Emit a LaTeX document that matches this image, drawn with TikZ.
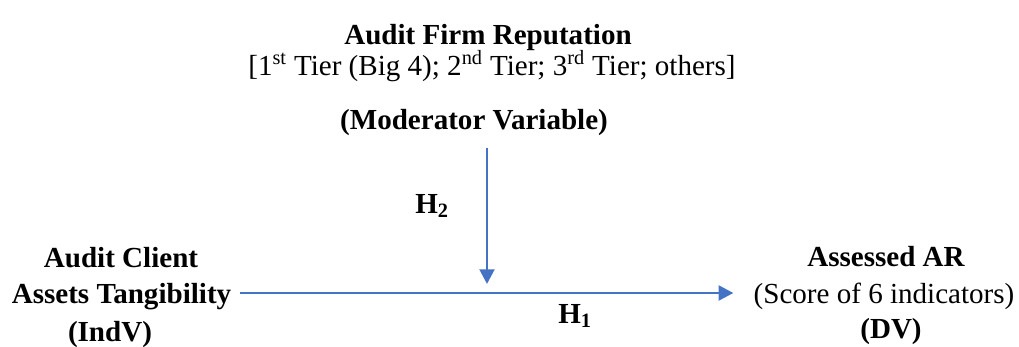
\documentclass[tikz,border=0pt]{standalone}
\usepackage{fontspec}
\setmainfont{Liberation Serif}
\newfontfamily\tnr{Liberation Serif}
\usetikzlibrary{arrows.meta}
\definecolor{arrowblue}{RGB}{68,114,196}
\begin{document}
\begin{tikzpicture}[x=0.75pt,y=-0.75pt,
  txt/.style={inner sep=0pt, anchor=base, font=\tnr\fontsize{21.8}{26}\selectfont},
  bold/.style={inner sep=0pt, anchor=base, font=\tnr\fontsize{21.8}{26}\selectfont\bfseries},
  conn/.style={draw=arrowblue, line width=2.2pt, -{Triangle[length=11pt,width=11pt]}}]
\useasboundingbox (0,0) rectangle (1019,346);
% top block
\node[bold] (firm) at (488,45) {Audit Firm Reputation};
\node[txt] (tiers) at (492,75) {[1\textsuperscript{st} Tier (Big 4); 2\textsuperscript{nd} Tier; 3\textsuperscript{rd} Tier; others]};
\node[bold] (mod) at (474,129) {(Moderator Variable)};
% left block
\node[bold] (client) at (121,267) {Audit Client};
\node[bold] (tang) at (121.5,303) {Assets Tangibility};
\node[bold] (indv) at (110,341) {(IndV)};
% right block
\node[bold] (ar) at (886,266) {Assessed AR};
\node[txt] (score) at (884,303) {(Score of 6 indicators)};
\node[bold] (dv) at (891,338) {(DV)};
% hypothesis labels
\node[bold] (h2) at (432,213) {H\textsubscript{2}};
\node[bold] (h1) at (575,323) {H\textsubscript{1}};
% connectors
\coordinate (hy) at (0,293);
\coordinate (vtop) at (487,148);
\coordinate (vend) at (487,284);
\draw[conn] ([xshift=6.75pt]tang.east |- hy) -- ([xshift=-15pt]score.west |- hy);
\draw[conn] (vtop) -- (vend);
\end{tikzpicture}
\end{document}
